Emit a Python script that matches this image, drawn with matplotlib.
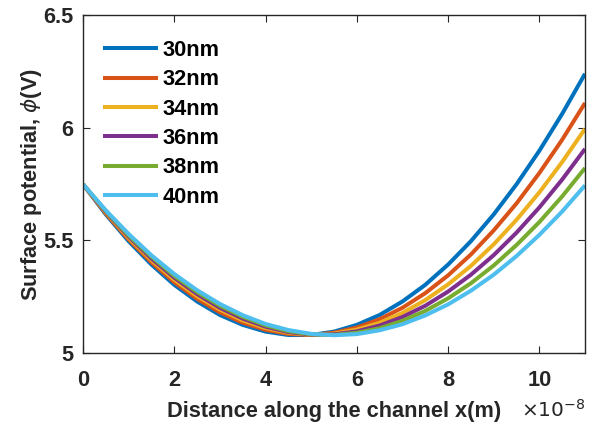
import matplotlib
matplotlib.use("Agg")
import matplotlib.pyplot as plt

# x positions along the channel, in units of 1e-8 m
x_e8 = [0, 0.5, 1, 1.5, 2, 2.5, 3, 3.5, 4, 4.5, 5, 5.5, 6, 6.5, 7, 7.5,
        8, 8.5, 9, 9.5, 10, 10.5, 11]

phi_30 = [5.750, 5.616, 5.497, 5.393, 5.303, 5.229, 5.169, 5.125, 5.095, 5.080,
          5.080, 5.095, 5.125, 5.169, 5.229, 5.303, 5.393, 5.497, 5.616, 5.750,
          5.899, 6.063, 6.241]
phi_32 = [5.750, 5.620, 5.505, 5.403, 5.315, 5.241, 5.181, 5.135, 5.103, 5.085,
          5.080, 5.090, 5.113, 5.150, 5.201, 5.266, 5.345, 5.438, 5.545, 5.665,
          5.800, 5.948, 6.111]
phi_34 = [5.750, 5.625, 5.512, 5.413, 5.326, 5.253, 5.193, 5.145, 5.111, 5.090,
          5.081, 5.086, 5.104, 5.134, 5.178, 5.235, 5.305, 5.387, 5.483, 5.592,
          5.714, 5.849, 5.996]
phi_36 = [5.750, 5.628, 5.518, 5.420, 5.335, 5.262, 5.201, 5.153, 5.117, 5.093,
          5.082, 5.083, 5.096, 5.122, 5.160, 5.210, 5.273, 5.348, 5.435, 5.535,
          5.647, 5.771, 5.907]
phi_38 = [5.750, 5.631, 5.523, 5.428, 5.343, 5.271, 5.210, 5.161, 5.123, 5.097,
          5.083, 5.080, 5.090, 5.110, 5.143, 5.187, 5.243, 5.310, 5.389, 5.480,
          5.582, 5.696, 5.822]
phi_40 = [5.750, 5.634, 5.529, 5.434, 5.351, 5.279, 5.218, 5.168, 5.129, 5.102,
          5.085, 5.079, 5.084, 5.101, 5.128, 5.167, 5.216, 5.277, 5.348, 5.431,
          5.525, 5.629, 5.745]

labels = ["30nm", "32nm", "34nm", "36nm", "38nm", "40nm"]
series = [phi_30, phi_32, phi_34, phi_36, phi_38, phi_40]
colors = ["#0072BD", "#D95319", "#EDB120", "#7E2F8E", "#77AC30", "#4DBEEE"]

xticks = [0, 2, 4, 6, 8, 10]
yticks = [5, 5.5, 6, 6.5]
ytick_labels = ["5", "5.5", "6", "6.5"]

plt.rcParams['font.family'] = ['Liberation Sans', 'DejaVu Sans']
plt.rcParams['mathtext.fontset'] = 'dejavusans'

FS = 15.7

fig = plt.figure(figsize=(5.97, 4.23), dpi=100)
ax = fig.add_axes([83/597, 70/423, 502/597, 337.5/423])

for y, lab, c in zip(series, labels, colors):
    ax.plot(x_e8, y, color=c, lw=2.9, label=lab, solid_capstyle='butt')

ax.set_xlim(0, 11)
ax.set_ylim(5, 6.5)
ax.set_xticks(xticks)
ax.set_xticklabels([str(t) for t in xticks])
ax.set_yticks(yticks)
ax.set_yticklabels(ytick_labels)

edge = "#262626"
for s in ax.spines.values():
    s.set_color(edge)
    s.set_linewidth(1.0)
ax.tick_params(direction='in', length=5, width=0.8, color=edge,
               top=True, right=True, labelsize=FS, labelcolor=edge)
ax.tick_params(axis='x', pad=12)
ax.tick_params(axis='y', pad=7)
for t in ax.get_xticklabels() + ax.get_yticklabels():
    t.set_fontweight('bold')

ax.set_xlabel("Distance along the channel x(m)", fontsize=FS,
              fontweight='bold', color=edge, labelpad=7.5)
ax.set_ylabel(r"Surface potential, $\phi$(V)", fontsize=FS,
              fontweight='bold', color=edge, labelpad=-1)

ax.text(1.0, -0.168, r"$\times10^{-8}$", transform=ax.transAxes,
        ha='right', va='center', fontsize=14.5, color=edge)

leg = ax.legend(loc='upper left', bbox_to_anchor=(0.022, 0.953),
                borderaxespad=0, frameon=False, handlelength=2.52,
                handletextpad=0.23, labelspacing=0.38,
                prop={'weight': 'bold', 'size': FS})
for t in leg.get_texts():
    t.set_color('black')

fig.savefig("out.png", dpi=100)
